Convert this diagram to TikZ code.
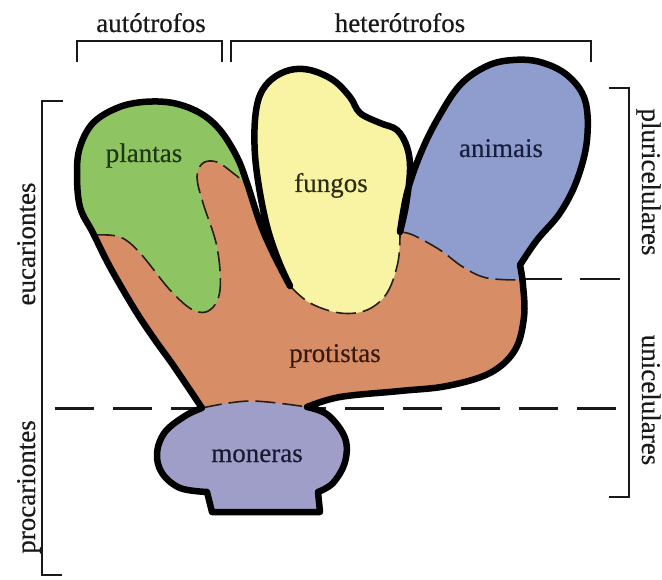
\documentclass[tikz,border=0pt]{standalone}
\usepackage{fontspec}
\setmainfont{Liberation Serif}
\newfontfamily\lblfont{Liberation Serif}[FakeBold=0.4]
\definecolor{protcol}{RGB}{215,141,101}
\definecolor{plantcol}{RGB}{142,196,98}
\definecolor{fungcol}{RGB}{248,244,164}
\definecolor{animcol}{RGB}{142,157,206}
\definecolor{monecol}{RGB}{158,158,200}
\definecolor{edgecol}{RGB}{40,30,25}
\definecolor{inkcol}{RGB}{25,25,25}

\newcommand{\bodyoutline}{(290,286)
  -- plot[smooth,tension=.6] coordinates {(290,286) (273,253) (260,223) (247,183) (237,157) (220,130) (200,113) (173,103) (143,102) (117,108) (93,123) (80,147) (77,173) (80,207) (93,233) (110,267) (135,310) (155,340) (173,365) (202,408)}
  -- plot[smooth,tension=.6] coordinates {(202,408) (185,416) (165,432) (157,453) (162,473) (180,488) (207,492)}
  -- (212,512) -- (320,512) -- (318,492)
  -- plot[smooth,tension=.6] coordinates {(318,492) (333,483) (345,462) (345,438) (328,415) (307,407)}
  -- plot[smooth,tension=.6] coordinates {(307,407) (340,397) (400,391) (447,386) (490,373) (515,350) (524,317) (523,285) (520,265)}
  -- plot[smooth,tension=.6] coordinates {(520,265) (537,240) (560,213) (577,180) (587,140) (585,100) (567,75) (540,62) (513,60) (487,66) (460,85) (437,120) (420,155) (407,193) (400,232)}
  -- plot[smooth,tension=.6] coordinates {(400,232) (406,205) (410,170) (407,147) (397,130) (380,123) (360,113) (350,97) (333,80) (310,70) (290,70) (272,79) (260,95) (255,120) (255,155) (260,193) (268,230) (279,262) (290,286)}
  -- cycle}

\begin{document}
\begin{tikzpicture}[x=1pt,y=-1pt,
  outline/.style={draw=black,line width=6.5pt,line join=round},
  border/.style={draw=edgecol,line width=1.6pt,dash pattern=on 20pt off 7pt},
  bracket/.style={draw=inkcol,line width=2.4pt},
  lbl/.style={font=\lblfont\fontsize{27}{30}\selectfont,text=inkcol,anchor=base,inner sep=0pt}]
  \useasboundingbox (0,0) rectangle (662,580);

  \draw[inkcol,line width=3pt,dash pattern=on 39pt off 19pt] (55,408) -- (616,408);
  \draw[inkcol,line width=1.6pt,dash pattern=on 40pt off 18pt] (522,279) -- (620,279);

  \fill[protcol] \bodyoutline;
  \begin{scope}
    \clip \bodyoutline;
    \fill[plantcol] plot[smooth,tension=.6] coordinates {(95,235) (120,237) (140,253) (170,290) (193,310) (210,310) (220,290) (217,247) (203,203) (197,177) (203,163) (217,162) (233,173) (244,182)}
      -- (246,150) -- (246,40) -- (40,40) -- (40,235) -- cycle;
    \fill[fungcol] plot[smooth,tension=.6] coordinates {(290,286) (310,303) (340,313) (367,310) (387,293) (398,262) (400,232)}
      -- (411,178) -- (425,40) -- (245,40) -- (245,100) -- (248,150) -- (259,210) -- (276,260) -- cycle;
    \fill[animcol] plot[smooth,tension=.6] coordinates {(400,232) (413,235) (440,250) (463,267) (487,278) (523,280)}
      -- (640,280) -- (640,40) -- (425,40) -- (411,178) -- cycle;
    \fill[monecol] plot[smooth,tension=.6] coordinates {(202,408) (250,401) (307,407)}
      -- (400,407) -- (400,560) -- (100,560) -- (100,408) -- cycle;
  \end{scope}
  \draw[border] plot[smooth,tension=.6] coordinates {(95,235) (120,237) (140,253) (170,290) (193,310) (210,310) (220,290) (217,247) (203,203) (197,177) (203,163) (217,162) (233,173) (244,182)};
  \draw[border] plot[smooth,tension=.6] coordinates {(290,286) (310,303) (340,313) (367,310) (387,293) (398,262) (400,232)};
  \draw[border] plot[smooth,tension=.6] coordinates {(400,232) (413,235) (440,250) (463,267) (487,278) (523,280)};
  \draw[border] plot[smooth,tension=.6] coordinates {(202,408) (250,401) (307,407)};
  \draw[outline] \bodyoutline;

  \draw[bracket] (77,62) -- (77,41) -- (222,41) -- (222,62);
  \draw[bracket] (231,62) -- (231,41) -- (591,41) -- (591,62);
  \draw[bracket] (63,101) -- (42,101) -- (42,575) -- (62,575);
  \draw[bracket] (609,88) -- (629,88) -- (629,497) -- (609,497);

  \node[lbl] (autotrofos) at (151,32) {autótrofos};
  \node[lbl] (heterotrofos) at (400,32) {heterótrofos};
  \node[lbl,rotate=90] (eucariontes) at (35,244) {eucariontes};
  \node[lbl,rotate=90] (procariontes) at (35,487) {procariontes};
  \node[lbl,rotate=-90] (pluricelulares) at (642,182) {pluricelulares};
  \node[lbl,rotate=-90] (unicelulares) at (642,400) {unicelulares};
  \node[lbl,text={rgb,255:red,30;green,55;blue,20}] (plantas) at (144,162) {plantas};
  \node[lbl,text={rgb,255:red,45;green,45;blue,20}] (fungos) at (331,192) {fungos};
  \node[lbl,text={rgb,255:red,25;green,30;blue,60}] (animais) at (501,157) {animais};
  \node[lbl,text={rgb,255:red,55;green,25;blue,15}] (protistas) at (335,362) {protistas};
  \node[lbl,text={rgb,255:red,25;green,25;blue,50}] (moneras) at (257,462) {moneras};
\end{tikzpicture}
\end{document}
